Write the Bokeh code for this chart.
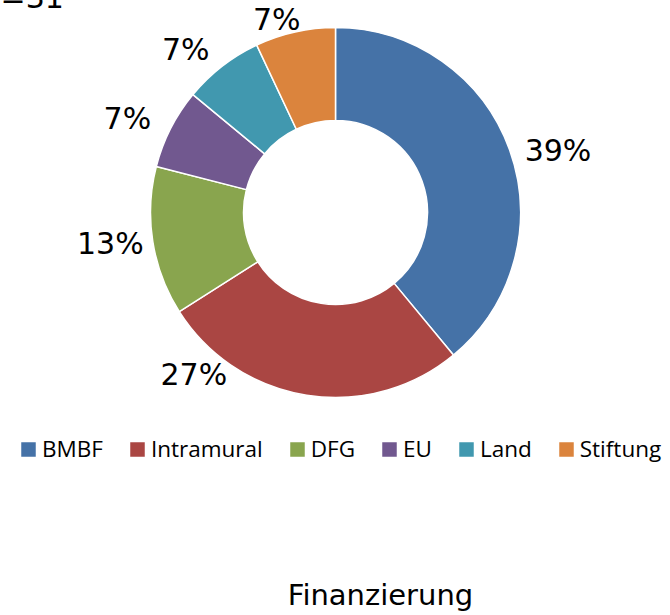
import math
from bokeh.plotting import figure
from bokeh.models import Range1d, Legend, LegendItem, ColumnDataSource
from bokeh.core.properties import value
from bokeh.embed import file_html
from bokeh.resources import INLINE

# ---- data ----
categories = ["BMBF", "Intramural", "DFG", "EU", "Land", "Stiftung"]
shares = [39, 27, 13, 7, 7, 7]
colors = ["#4572A7", "#AA4643", "#89A54E", "#71588F", "#4198AF", "#DB843D"]
title_text = "Finanzierung"
note_text = "n=31"

# ---- styling / layout (page pixel coordinates, y measured downward) ----
W, H = 670, 615
OFF = 8
CX, CY = 335, 212
R_OUT, R_IN = 185, 92
R_LABEL = 228
label_nudge = [(8, 15), (-106, -63), (0, -5), (-5, 9.5), (-10, 17), (-9, 29.5)]

def ydata(page_y):
    return H - page_y

total = float(sum(shares))
starts, ends, mids = [], [], []
acc = 0.0
for s in shares:
    a0 = acc / total * 2 * math.pi
    acc += s
    a1 = acc / total * 2 * math.pi
    starts.append(math.pi / 2 - a0)
    ends.append(math.pi / 2 - a1)
    mids.append((a0 + a1) / 2)

src = ColumnDataSource(dict(cat=categories, start=starts, end=ends, color=colors))

p = figure(width=W + OFF, height=H + OFF, output_backend="svg", toolbar_location=None,
           x_range=Range1d(-OFF, W), y_range=Range1d(0, H + OFF),
           min_border=0, min_border_left=0, min_border_right=0,
           min_border_top=0, min_border_bottom=0)
p.styles = {"margin-left": "-8px", "margin-top": "-8px"}
p.axis.visible = False
p.grid.visible = False
p.outline_line_color = None
p.background_fill_color = "white"
p.border_fill_color = "white"

r = p.annular_wedge(x=CX, y=ydata(CY), inner_radius=R_IN, outer_radius=R_OUT,
                    start_angle="start", end_angle="end", direction="clock",
                    fill_color="color", line_color="white", line_width=1.5,
                    source=src)

# percentage labels
lx, ly, lt = [], [], []
for i, (m, s) in enumerate(zip(mids, shares)):
    px = CX + R_LABEL * math.sin(m) + label_nudge[i][0]
    py = CY - R_LABEL * math.cos(m) + label_nudge[i][1]
    lx.append(px)
    ly.append(ydata(py))
    lt.append(f"{round(s / total * 100)}%")
p.text(x=lx, y=ly, text=lt, text_align="center", text_baseline="middle",
       text_font=value("DejaVu Sans"), text_font_size="30px", text_color="black")

# partial note at top-left
p.text(x=[-19], y=[ydata(-3)], text=[note_text], text_align="left",
       text_baseline="alphabetic", text_font=value("DejaVu Sans"),
       text_font_size="30px", text_color="black")

# title at the bottom
p.text(x=[380], y=[ydata(594)], text=[title_text], text_align="center",
       text_baseline="alphabetic", text_font=value("DejaVu Sans"),
       text_font_size="29px", text_color="black")

legend = Legend(items=[LegendItem(label=c, renderers=[r], index=i)
                       for i, c in enumerate(categories)],
                orientation="horizontal", location=(18 + OFF, ydata(464)),
                glyph_width=20, glyph_height=20, label_standoff=4, spacing=24,
                padding=0, margin=0, border_line_alpha=0,
                background_fill_alpha=0,
                label_text_font="Open Sans", label_text_font_size="22.5px",
                label_text_color="black")
p.add_layout(legend)

open("out.html", "w").write(file_html(p, INLINE))
